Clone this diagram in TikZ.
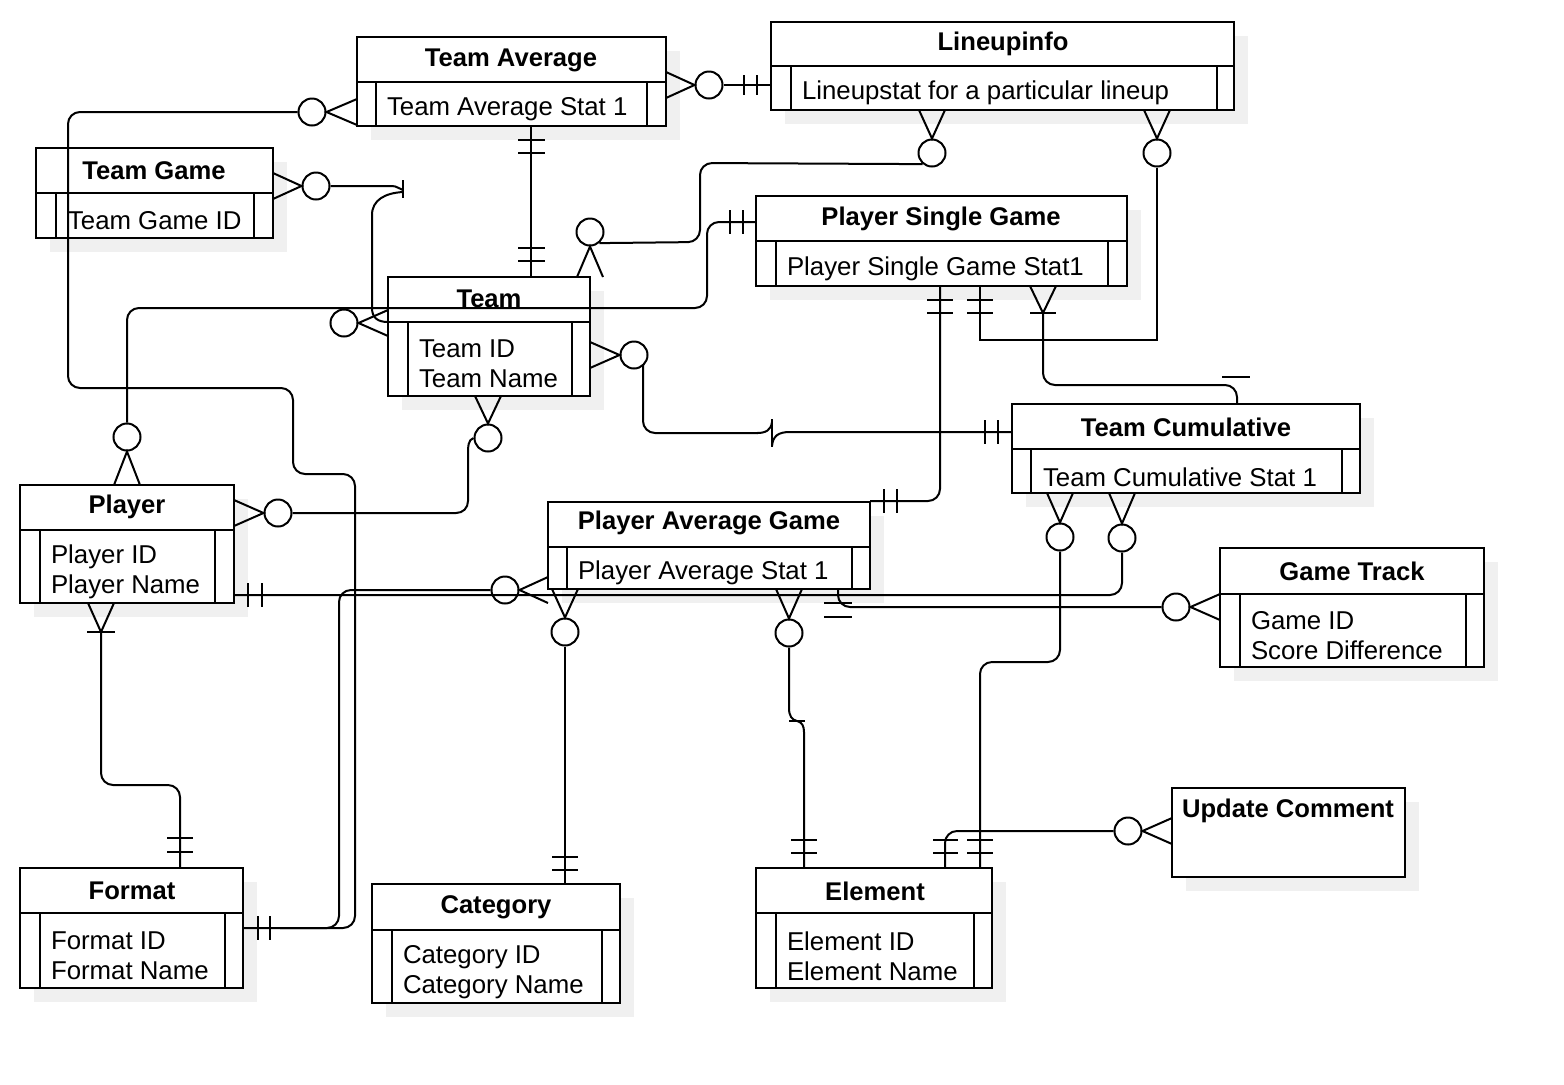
\documentclass[tikz,border=0pt]{standalone}
\usepackage{fontspec}
\setmainfont{Liberation Sans}
\newcommand{\erShadow}[4]{\fill[black!6] (#1+14,#2+14) rectangle (#3+14,#4+14);}
\newcommand{\erBox}[7]{\draw[fill=white] (#1,#2) rectangle (#3,#4); \draw (#1,#5) -- (#3,#5) (#6,#5) -- (#6,#4) (#7,#5) -- (#7,#4);}
\tikzset{
  ttl/.style={font=\bfseries\fontsize{12.8}{15}\selectfont, inner sep=0pt},
  att/.style={font=\fontsize{12.9}{15}\selectfont, anchor=west, align=left, inner sep=0pt},
  ring/.style={draw, fill=white, circle, minimum size=13.5pt, inner sep=0pt, line width=1pt},
  rc/.style={rounded corners=6pt},
}
\begin{document}
\begin{tikzpicture}[x=0.5pt,y=-0.5pt,line width=1pt]
\useasboundingbox (0,0) rectangle (1564,1084);
% shadows
\erShadow{357}{37}{666}{126}
\erShadow{771}{22}{1234}{110}
\erShadow{36}{148}{273}{238}
\erShadow{756}{196}{1127}{286}
\erShadow{388}{277}{590}{396}
\erShadow{20}{485}{234}{603}
\erShadow{548}{502}{870}{589}
\erShadow{1012}{404}{1360}{493}
\erShadow{1220}{548}{1484}{667}
\erShadow{20}{868}{243}{988}
\erShadow{372}{884}{620}{1003}
\erShadow{756}{868}{992}{988}
\erShadow{1172}{788}{1405}{877}
% boxes
\erBox{357}{37}{666}{126}{82}{376}{647}
\erBox{771}{22}{1234}{110}{66}{791}{1217}
\erBox{36}{148}{273}{238}{193}{56}{254}
\erBox{756}{196}{1127}{286}{241}{776}{1108}
\erBox{388}{277}{590}{396}{322}{408}{572}
\erBox{20}{485}{234}{603}{530}{40}{215}
\erBox{548}{502}{870}{589}{547}{567}{852}
\erBox{1012}{404}{1360}{493}{449}{1031}{1342}
\erBox{1220}{548}{1484}{667}{594}{1240}{1466}
\erBox{20}{868}{243}{988}{913}{40}{225}
\erBox{372}{884}{620}{1003}{930}{392}{602}
\erBox{756}{868}{992}{988}{913}{776}{974}
\draw[fill=white] (1172,788) rectangle (1405,877);
% texts
\node[ttl] (ta) at (511,60) {Team Average};
\node[att] (taa) at (386,109) {Team Average Stat 1};
\node[ttl] (li) at (1003,44) {Lineupinfo};
\node[att] (lia) at (801,93) {Lineupstat for a particular lineup};
\node[ttl] (tg) at (154,171) {Team Game};
\node[att] (tga) at (67,221) {Team Game ID};
\node[ttl] (psg) at (941,219) {Player Single Game};
\node[att] (psga) at (786,269) {Player Single Game Stat1};
\node[ttl] (tm) at (489,299) {Team};
\node[att] (tma) at (418,364) {Team ID\\Team Name};
\node[ttl] (pl) at (127,507) {Player};
\node[att] (pla) at (50,572) {Player ID\\Player Name};
\node[ttl] (pag) at (709,523) {Player Average Game};
\node[att] (paga) at (577,573) {Player Average Stat 1};
\node[ttl] (tc) at (1186,427) {Team Cumulative};
\node[att] (tca) at (1042,477) {Team Cumulative Stat 1};
\node[ttl] (gt) at (1352,571) {Game Track};
\node[att] (gta) at (1250,636) {Game ID\\Score Difference};
\node[ttl] (fm) at (132,891) {Format};
\node[att] (fma) at (50,956) {Format ID\\Format Name};
\node[ttl] (ct) at (496,907) {Category};
\node[att] (cta) at (402,972) {Category ID\\Category Name};
\node[ttl] (el) at (875,891) {Element};
\node[att] (ela) at (786,956) {Element ID\\Element Name};
\node[ttl] (uc) at (1288,811) {Update Comment};
% C1 Team Average -> Lineupinfo
\node[ring] (r1) at (709,85) {};
\draw (666,72) -- (r1.west) -- (666,98);
\draw (r1.east) -- (771,85);
\draw (744,75) -- (744,95) (757,75) -- (757,95);
% C2 Team Average -> Format
\node[ring] (r2) at (312,112) {};
\draw (357,99) -- (r2.east) -- (357,125);
\draw[rc] (r2.west) -- (68,112) -- (68,388) -- (293,388) -- (293,474) -- (355,474) -- (355,928) -- (243,928);
\draw (258,916) -- (258,940) (270,916) -- (270,940);
% C3 Player Average Game -> Format
\node[ring] (r3) at (505,590) {};
\draw (548,577) -- (r3.east) -- (548,603);
\draw[rc] (r3.west) -- (339,590) -- (339,928) -- (280,928);
% C4 Player -> Team Cumulative
\node[ring] (r4) at (1122,538) {};
\draw (1109,493) -- (r4.north) -- (1135,493);
\draw[rc] (234,595) -- (1122,595) -- (r4.south);
\draw (248,583) -- (248,607) (262,583) -- (262,607);
% C5 Player Average Game -> Game Track
\node[ring] (r5) at (1176,607) {};
\draw (1220,594) -- (r5.east) -- (1220,620);
\draw[rc] (838,589) -- (838,607) -- (r5.west);
\draw (824,603) -- (852,603) (824,617) -- (852,617);
% C6 Player Average Game -> Category
\node[ring] (r6) at (565,632) {};
\draw (552,589) -- (r6.north) -- (578,589);
\draw (r6.south) -- (565,884);
\draw (552,857) -- (578,857) (552,870) -- (578,870);
% C7 Player Average Game -> Element
\node[ring] (r7) at (789,633) {};
\draw (776,589) -- (r7.north) -- (802,589);
\draw (r7.south) -- (789,708) .. controls (789,716) and (792,720) .. (797,721);
\draw (789,721) -- (805,721);
\draw (797,721) .. controls (802,722) and (804,726) .. (804,732) -- (804,868);
\draw (791,840) -- (817,840) (791,853) -- (817,853);
% C8 Team Cumulative -> Element
\node[ring] (r8) at (1060,537) {};
\draw (1047,493) -- (r8.north) -- (1073,493);
\draw[rc] (r8.south) -- (1060,662) -- (980,662) -- (980,868);
\draw (967,840) -- (993,840) (967,853) -- (993,853);
% C9 Update Comment -> Element
\node[ring] (r9) at (1128,831) {};
\draw (1172,818) -- (r9.east) -- (1172,844);
\draw[rc] (r9.west) -- (945,831) -- (945,868);
\draw (933,840) -- (958,840) (933,853) -- (958,853);
% C10 Team Average -> Team
\draw (531,126) -- (531,277);
\draw (518,140) -- (545,140) (518,153) -- (545,153) (518,248) -- (545,248) (518,261) -- (545,261);
% C11 Team -> Lineupinfo
\node[ring] (r11a) at (590,232) {};
\draw (577,277) -- (r11a.south) -- (603,277);
\node[ring] (r11b) at (932,153) {};
\draw (919,110) -- (r11b.north) -- (945,110);
\draw[rc] (r11a.-50) -- (700,242) -- (700,163) -- (r11b.230);
% C12 Lineupinfo -> Player Single Game
\node[ring] (r12) at (1157,153) {};
\draw (1144,110) -- (r12.north) -- (1170,110);
\draw (r12.south) -- (1157,340) -- (980,340) -- (980,286);
\draw (967,300) -- (993,300) (967,313) -- (993,313);
% C13 Player Single Game -> Player Average Game
\draw[rc] (940,286) -- (940,501) -- (870,501);
\draw (927,300) -- (953,300) (927,313) -- (953,313);
\draw (884,489) -- (884,513) (897,489) -- (897,513);
% C14 Player Single Game -> Team Cumulative
\draw (1030,286) -- (1043,313) -- (1056,286);
\draw (1030,313) -- (1056,313);
\draw[rc] (1043,313) -- (1043,385) -- (1237,385) -- (1237,404);
\draw (1222,377) -- (1250,377);
% C15 Team -> Team Cumulative
\node[ring] (r15) at (634,355) {};
\draw (590,342) -- (r15.west) -- (590,368);
\draw[rc] (643,365) -- (643,433) -- (758,433);
\draw (757,433) .. controls (766,433) and (771,430) .. (772,422);
\draw (772,419) -- (772,447);
\draw (772,446) .. controls (773,436) and (778,432) .. (790,432) -- (1012,432);
\draw (985,420) -- (985,444) (998,420) -- (998,444);
% C16 Team -> Player
\node[ring] (r16a) at (488,438) {};
\draw (475,396) -- (r16a.north) -- (501,396);
\node[ring] (r16b) at (278,513) {};
\draw (234,500) -- (r16b.west) -- (234,526);
\draw (r16a.west) .. controls (468,440) and (468,446) .. (468,456) -- (468,501) .. controls (468,508) and (463,513) .. (456,513) -- (r16b.east);
% C17 Player -> Player Single Game
\node[ring] (r17) at (127,437) {};
\draw (114,485) -- (r17.south) -- (140,485);
\draw[rc] (r17.north) -- (127,308) -- (707,308) -- (707,222) -- (756,222);
\draw (730,210) -- (730,234) (743,210) -- (743,234);
% C18 Player -> Format
\draw (88,603) -- (101,632) -- (114,603);
\draw (87,632) -- (115,632);
\draw[rc] (101,632) -- (101,785) -- (180,785) -- (180,868);
\draw (167,838) -- (193,838) (167,852) -- (193,852);
% C19 Team Game -> Team
\node[ring] (r19a) at (316,186) {};
\draw (273,173) -- (r19a.west) -- (273,199);
\draw (r19a.east) -- (392,186) .. controls (397,186) and (399,189) .. (403,190);
\draw (403,180) -- (403,198);
\draw (403,192) .. controls (385,193) and (372,200) .. (372,215) -- (372,308) .. controls (372,318) and (378,322) .. (388,322);
\node[ring] (r19b) at (344,323) {};
\draw (388,310) -- (r19b.east) -- (388,336);
\end{tikzpicture}
\end{document}
